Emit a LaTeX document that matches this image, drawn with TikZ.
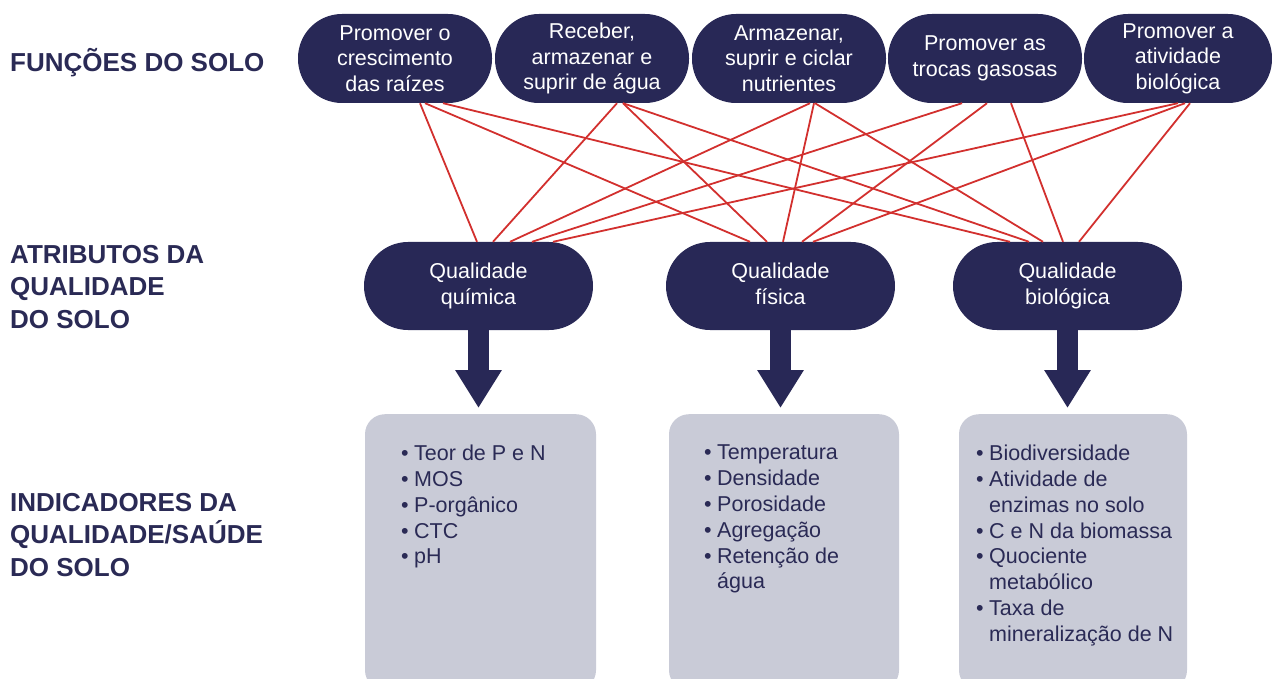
\documentclass[tikz,border=0pt]{standalone}
\usepackage{fontspec}
\setmainfont{Liberation Sans}
\usetikzlibrary{calc,arrows.meta}
\definecolor{navy}{HTML}{282856}
\definecolor{boxgray}{HTML}{C9CBD7}
\definecolor{linkred}{HTML}{D2302E}
\definecolor{txt}{HTML}{2A2A55}
\begin{document}
\begin{tikzpicture}[x=1pt,y=-1pt,
  func/.style={fill=navy, text=white, rounded corners=44pt, minimum width=194pt, minimum height=89pt, inner sep=0pt, align=center, font=\fontsize{21.5}{25.6}\selectfont},
  attr/.style={fill=navy, text=white, rounded corners=44pt, minimum width=229pt, minimum height=88pt, inner sep=0pt, align=center, font=\fontsize{21.5}{25.6}\selectfont},
  indbox/.style={fill=boxgray, rounded corners=20pt, minimum width=230pt, minimum height=276pt, inner sep=0pt, anchor=north},
  list/.style={text=txt, align=left, anchor=north west, inner sep=0pt, font=\fontsize{21.5}{25.8}\selectfont},
  heading/.style={text=txt, font=\bfseries\fontsize{26}{32.3}\selectfont, align=left, anchor=west, inner sep=0pt},
  link/.style={draw=linkred, line width=1.8pt},
  bigarrow/.style={draw=navy, line width=21pt, -{Triangle[width=44pt,length=38pt]}, shorten >=6pt}
]
\useasboundingbox (0,0) rectangle (1272,679);
\clip (0,0) rectangle (1272,679);

% headings
\node[heading] (h1) at (10,63) {FUNÇÕES DO SOLO};
\node[heading] (h2) at (10,287) {ATRIBUTOS DA\\QUALIDADE\\DO SOLO};
\node[heading] (h3) at (10,535) {INDICADORES DA\\QUALIDADE/SAÚDE\\DO SOLO};

% soil functions
\node[func] (f1) at (395,58.5) {Promover o\\crescimento\\das raízes};
\node[func] (f2) at (592,58.5) {Receber,\\armazenar e\\suprir de água};
\node[func] (f3) at (789,58.5) {Armazenar,\\suprir e ciclar\\nutrientes};
\node[func] (f4) at (985,58.5) {Promover as\\trocas gasosas};
\node[func, minimum width=188pt] (f5) at (1178,58.5) {Promover a\\atividade\\biológica};

% attributes
\node[attr] (aq) at (478.5,286) {Qualidade\\química};
\node[attr] (af) at (780.5,286) {Qualidade\\física\vphantom{q}};
\node[attr] (ab) at (1067.5,286) {Qualidade\\biológica};

% links
\foreach \f/\fo/\a/\ao in {
  f1/25/aq/-1.5, f1/30/af/-30.5, f1/48/ab/-57.5,
  f2/25/aq/14.5, f2/31/af/-13.5, f2/31/ab/-38.5,
  f3/21/aq/31.5, f3/25/af/2.5, f3/26/ab/-24.5,
  f4/-23/aq/53.5, f4/2/af/21.5, f4/26/ab/-4.5,
  f5/0/aq/74.5, f5/7/af/32.5, f5/12/ab/11.5}
  \draw[link] ($(\f.south)+(\fo,0)$) -- ($(\a.north)+(\ao,0)$);

% indicator boxes
\node[indbox, minimum width=231pt] (bq) at (480.5,414) {};
\node[indbox] (bf) at (784,414) {};
\node[indbox, minimum width=228pt] (bb) at (1073,414) {};

% big arrows
\draw[bigarrow] (aq.south) -- (aq.south |- bq.north);
\draw[bigarrow] (af.south) -- (af.south |- bf.north);
\draw[bigarrow] (ab.south) -- (ab.south |- bb.north);

% lists
\node[list] (lq) at (401,445) {•\hspace{5.5pt}Teor de P e N\\
•\hspace{5.5pt}MOS\\
•\hspace{5.5pt}P-orgânico\\
•\hspace{5.5pt}CTC\\
•\hspace{5.5pt}pH};
\node[list] (lf) at (704,445) {•\hspace{5.5pt}Temperatura\\
•\hspace{5.5pt}Densidade\\
•\hspace{5.5pt}Porosidade\\
•\hspace{5.5pt}Agregação\\
•\hspace{5.5pt}Retenção de\\
\hphantom{•}\hspace{5.5pt}água};
\node[list] (lb) at (976,445) {•\hspace{5.5pt}Biodiversidade\\
•\hspace{5.5pt}Atividade de\\
\hphantom{•}\hspace{5.5pt}enzimas no solo\\
•\hspace{5.5pt}C e N da biomassa\\
•\hspace{5.5pt}Quociente\\
\hphantom{•}\hspace{5.5pt}metabólico\\
•\hspace{5.5pt}Taxa de\\
\hphantom{•}\hspace{5.5pt}mineralização de N};
\end{tikzpicture}
\end{document}
